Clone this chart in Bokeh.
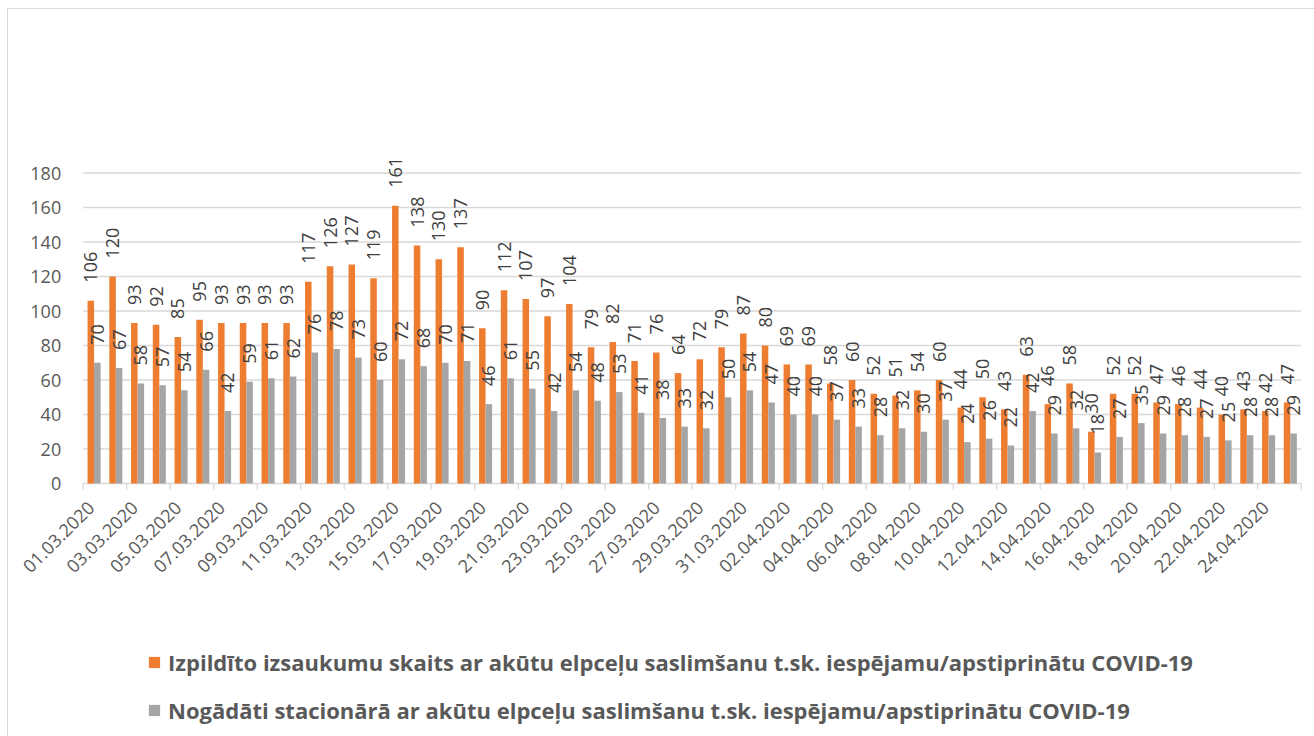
import math
from bokeh.plotting import figure
from bokeh.models import ColumnDataSource, Range1d, Legend, LegendItem
from bokeh.transform import dodge
from bokeh.core.properties import value
from bokeh.embed import file_html
from bokeh.resources import INLINE

dates = [
    "01.03.2020", "02.03.2020", "03.03.2020", "04.03.2020", "05.03.2020", "06.03.2020", "07.03.2020",
    "08.03.2020", "09.03.2020", "10.03.2020", "11.03.2020", "12.03.2020", "13.03.2020", "14.03.2020",
    "15.03.2020", "16.03.2020", "17.03.2020", "18.03.2020", "19.03.2020", "20.03.2020", "21.03.2020",
    "22.03.2020", "23.03.2020", "24.03.2020", "25.03.2020", "26.03.2020", "27.03.2020", "28.03.2020",
    "29.03.2020", "30.03.2020", "31.03.2020", "01.04.2020", "02.04.2020", "03.04.2020", "04.04.2020",
    "05.04.2020", "06.04.2020", "07.04.2020", "08.04.2020", "09.04.2020", "10.04.2020", "11.04.2020",
    "12.04.2020", "13.04.2020", "14.04.2020", "15.04.2020", "16.04.2020", "17.04.2020", "18.04.2020",
    "19.04.2020", "20.04.2020", "21.04.2020", "22.04.2020", "23.04.2020", "24.04.2020", "25.04.2020",
]

calls = [106, 120, 93, 92, 85, 95, 93, 93, 93, 93, 117, 126, 127, 119, 161, 138, 130, 137, 90, 112,
         107, 97, 104, 79, 82, 71, 76, 64, 72, 79, 87, 80, 69, 69, 58, 60, 52, 51, 54, 60,
         44, 50, 43, 63, 46, 58, 30, 52, 52, 47, 46, 44, 40, 43, 42, 47]

hospital = [70, 67, 58, 57, 54, 66, 42, 59, 61, 62, 76, 78, 73, 60, 72, 68, 70, 71, 46, 61,
            55, 42, 54, 48, 53, 41, 38, 33, 32, 50, 54, 47, 40, 40, 37, 33, 28, 32, 30, 37,
            24, 26, 22, 42, 29, 32, 18, 27, 35, 29, 28, 27, 25, 28, 28, 29]

y_ticks = [0, 20, 40, 60, 80, 100, 120, 140, 160, 180]

series_names = [
    "Izpildīto izsaukumu skaits ar akūtu elpceļu saslimšanu t.sk. iespējamu/apstiprinātu COVID-19",
    "Nogādāti stacionārā ar akūtu elpceļu saslimšanu t.sk. iespējamu/apstiprinātu COVID-19",
]

ORANGE = "#ED7D31"
GRAY = "#A5A5A5"
GRID = "#D9D9D9"
TXT = "#595959"
LBL = "#404040"
FONT = "Open Sans"

# layout (pixels): plot area spans x 82.7..1300.7, value 0 at y=483, 1.725 px per unit
W, H = 1314, 736
PL, PR, Y0, PX = 82.7, 1300.7, 483.0, 1.725

n = len(dates)
cw = (PR - PL) / n
idx = list(range(n))
src = ColumnDataSource(dict(
    x=idx, calls=calls, hospital=hospital,
    calls_lbl=[str(v) for v in calls], hosp_lbl=[str(v) for v in hospital],
))

x0 = -0.5 - PL / cw
p = figure(
    width=W, height=H, frame_width=W, frame_height=H,
    min_border=0,
    x_range=Range1d(x0, x0 + W / cw), y_range=Range1d(-(H - Y0) / PX, Y0 / PX),
    x_axis_location=None, y_axis_location=None,
    output_backend="svg", toolbar_location=None,
)
p.grid.visible = False
p.border_fill_color = None
p.background_fill_color = None
p.outline_line_color = None
p.styles = {
    "background": ("linear-gradient(#d9d9d9,#d9d9d9) 7px 8px / 1px 100% no-repeat, "
                   "linear-gradient(#d9d9d9,#d9d9d9) 7px 8px / 100% 1px no-repeat, white"),
}

# gridlines and value labels
gsrc = ColumnDataSource(dict(
    x0=[-0.5] * len(y_ticks), x1=[n - 0.5] * len(y_ticks), y=y_ticks,
    t=[str(v) for v in y_ticks],
))
p.segment(x0="x0", x1="x1", y0="y", y1="y", source=gsrc, line_color=GRID, line_width=1.3)
p.text(x="x0", y="y", text="t", source=gsrc, x_offset=-22,
       text_align="right", text_baseline="middle",
       text_font=value(FONT), text_font_size="18px", text_color=TXT)

# bars
r1 = p.vbar(x=dodge("x", -0.15), top="calls", width=0.3, source=src,
            fill_color=ORANGE, line_color=None)
r2 = p.vbar(x=dodge("x", 0.15), top="hospital", width=0.3, source=src,
            fill_color=GRAY, line_color=None)

for col, lbl, off in (("calls", "calls_lbl", -0.15), ("hospital", "hosp_lbl", 0.15)):
    p.text(x=dodge("x", off), y=col, text=lbl, source=src, angle=math.pi / 2,
           text_align="left", text_baseline="middle", y_offset=-18,
           text_font=value(FONT), text_font_size="18px", text_color=LBL)

# category axis: ticks between pairs of days, a label every second day
major = idx[::2]
bounds = [i - 0.5 for i in idx[::2]] + [n - 0.5]
tick_src = ColumnDataSource(dict(x=bounds, y0=[0] * len(bounds), y1=[-6 / PX] * len(bounds)))
p.segment(x0="x", x1="x", y0="y0", y1="y1", source=tick_src, line_color=GRID, line_width=1.3)
lab_src = ColumnDataSource(dict(x=major, y=[0] * len(major), t=[dates[i] for i in major]))
p.text(x="x", y="y", text="t", source=lab_src, angle=math.pi / 4,
       text_align="right", text_baseline="middle", x_offset=-3, y_offset=21,
       text_font=value(FONT), text_font_size="18px", text_color=TXT)

legend = Legend(
    items=[LegendItem(label=series_names[0], renderers=[r1]),
           LegendItem(label=series_names[1], renderers=[r2])],
    location=(147, 11), orientation="vertical",
    glyph_width=14, glyph_height=14, label_standoff=7, spacing=18, label_height=30,
    padding=0, margin=0, border_line_color=None, background_fill_alpha=0,
    label_text_font=FONT, label_text_font_size="22px", label_text_font_style="bold",
    label_text_color=TXT,
)
p.add_layout(legend, "center")

open("out.html", "w").write(file_html(p, INLINE))
